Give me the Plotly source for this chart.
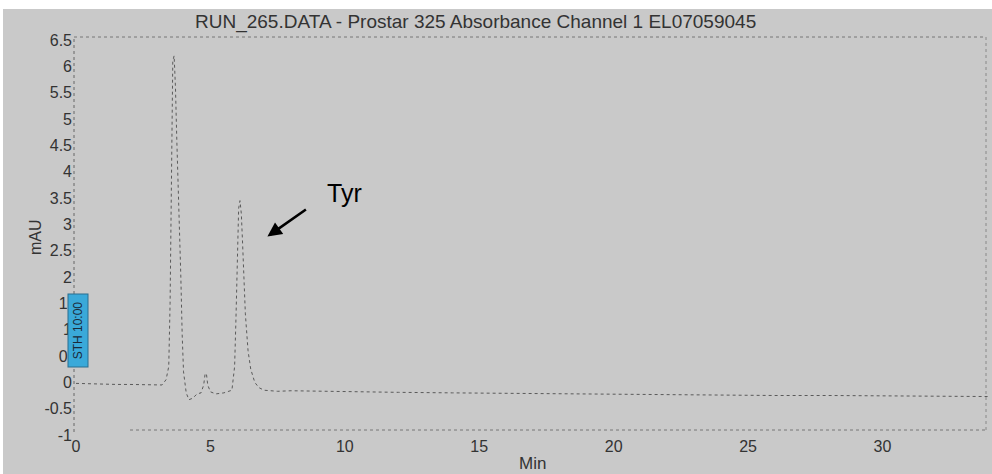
import plotly.graph_objects as go

# Chromatogram trace (minutes vs mAU)
time_min = [0.0, 0.5, 1.0, 1.5, 2.0, 2.5, 3.0, 3.2, 3.35, 3.45, 3.5, 3.55, 3.6, 3.65, 3.7,
            3.75, 3.8, 3.85, 3.9, 3.95, 4.0, 4.1, 4.2, 4.35, 4.5, 4.65, 4.75, 4.8, 4.85,
            4.9, 5.0, 5.2, 5.5, 5.8, 5.9, 5.95, 6.0, 6.05, 6.1, 6.15, 6.2, 6.25, 6.3,
            6.4, 6.5, 6.65, 6.8, 7.0, 7.5, 8.0, 9.0, 10.0, 12.0, 14.0, 16.0, 18.0, 20.0,
            22.0, 24.0, 26.0, 28.0, 30.0, 32.0, 34.0]
absorbance = [-0.02, -0.03, -0.03, -0.04, -0.04, -0.05, -0.06, -0.05, 0.05, 0.3, 1.5, 4.0,
              6.1, 6.2, 5.6, 4.6, 3.8, 3.1, 2.0, 0.9, 0.2, -0.2, -0.33, -0.3, -0.22, -0.2,
              -0.05, 0.15, 0.17, -0.05, -0.18, -0.22, -0.2, -0.15, 0.3, 1.2, 2.5, 3.3, 3.45,
              3.2, 2.6, 1.9, 1.3, 0.6, 0.25, 0.0, -0.1, -0.15, -0.17, -0.16, -0.17, -0.18,
              -0.19, -0.2, -0.21, -0.21, -0.22, -0.23, -0.24, -0.25, -0.25, -0.26, -0.27, -0.27]

y_ticks = [-1, -0.5, 0, 0.5, 1, 1.5, 2, 2.5, 3, 3.5, 4, 4.5, 5, 5.5, 6, 6.5]
y_tick_labels = ["-1", "-0.5", "0", "0.", "1", "1.", "2", "2.5", "3", "3.5", "4", "4.5",
                 "5", "5.5", "6", "6.5"]
x_ticks = [0, 5, 10, 15, 20, 25, 30]

title_text = "RUN_265.DATA - Prostar 325 Absorbance Channel 1 EL07059045"
peak_label = "Tyr"
marker_label = "STH 10:00"

BG = "#c9c9c9"
FONT = "Liberation Sans, Arial, sans-serif"

L, R, T, B = 76, 2, 40, 39
PW, PH = 992 - L - R, 474 - T - B


def px(xp):
    return (xp - L) / PW


def py(yp):
    return (474 - B - yp) / PH


fig = go.Figure()
fig.add_trace(go.Scatter(x=time_min, y=absorbance, mode="lines",
                         line=dict(color="#5a5a5a", width=1, dash="dot"),
                         hoverinfo="skip", showlegend=False))

fig.update_layout(
    width=992, height=474,
    margin=dict(l=L, r=R, t=T, b=B, pad=0),
    paper_bgcolor=BG, plot_bgcolor=BG,
    font=dict(family=FONT, color="#333333", size=16),
    xaxis=dict(range=[0, 34], tickvals=x_ticks, showgrid=False, zeroline=False,
               showline=False, ticks="", tickfont=dict(size=16, color="#333")),
    yaxis=dict(range=[-1, 6.5], tickvals=y_ticks, ticktext=y_tick_labels,
               showgrid=False, zeroline=False, showline=False, ticks="",
               ticklabelstandoff=3, tickfont=dict(size=16, color="#333")),
    shapes=[
        # white strips at top and left edges
        dict(type="rect", xref="paper", yref="paper", x0=px(0), x1=px(992),
             y0=py(9), y1=py(0), fillcolor="white", line=dict(width=0), layer="below"),
        dict(type="rect", xref="paper", yref="paper", x0=px(0), x1=px(3),
             y0=py(474), y1=py(0), fillcolor="white", line=dict(width=0), layer="below"),
        # dotted frame
        dict(type="line", xref="paper", yref="paper", x0=px(74), x1=px(74), y0=py(432), y1=py(37),
             line=dict(color="#666", width=1, dash="dot")),
        dict(type="line", xref="paper", yref="paper", x0=px(74), x1=px(986), y0=py(37), y1=py(37),
             line=dict(color="#777", width=1, dash="dot")),
        dict(type="line", xref="paper", yref="paper", x0=px(986), x1=px(986), y0=py(430), y1=py(37),
             line=dict(color="#888", width=1, dash="dot")),
        dict(type="line", xref="paper", yref="paper", x0=px(130), x1=px(986), y0=py(430), y1=py(430),
             line=dict(color="#777", width=1, dash="dot")),
    ],
    annotations=[
        dict(text=title_text, xref="paper", yref="paper", x=px(475), y=py(22),
             showarrow=False, font=dict(size=19, color="#333"), xanchor="center", yanchor="middle"),
        dict(text="mAU", xref="paper", yref="paper", x=px(35), y=py(237),
             showarrow=False, textangle=-90, font=dict(size=16, color="#333"),
             xanchor="center", yanchor="middle"),
        dict(text="Min", xref="paper", yref="paper", x=px(532), y=py(463),
             showarrow=False, font=dict(size=17, color="#333"), xanchor="center", yanchor="middle"),
        dict(text=marker_label, xref="paper", yref="paper", x=px(77.5), y=py(331),
             showarrow=False, textangle=-90, font=dict(size=12, color="#1a2a3a"),
             bgcolor="#3aa9d9", bordercolor="#2a6f8f", borderwidth=1, borderpad=0,
             xanchor="center", yanchor="middle", height=19, width=72),
        dict(text="", x=7.12, y=2.77, xref="x", yref="y", showarrow=True,
             ax=40, ay=-28, arrowhead=2, arrowsize=1.1, arrowwidth=2.6, arrowcolor="black"),
        dict(text=peak_label, x=10.0, y=3.6, xref="x", yref="y", showarrow=False,
             font=dict(size=25, color="black", family=FONT)),
    ],
)

fig.write_html("out.html", config={"displayModeBar": False},
               post_script="document.body.style.margin='0';")
